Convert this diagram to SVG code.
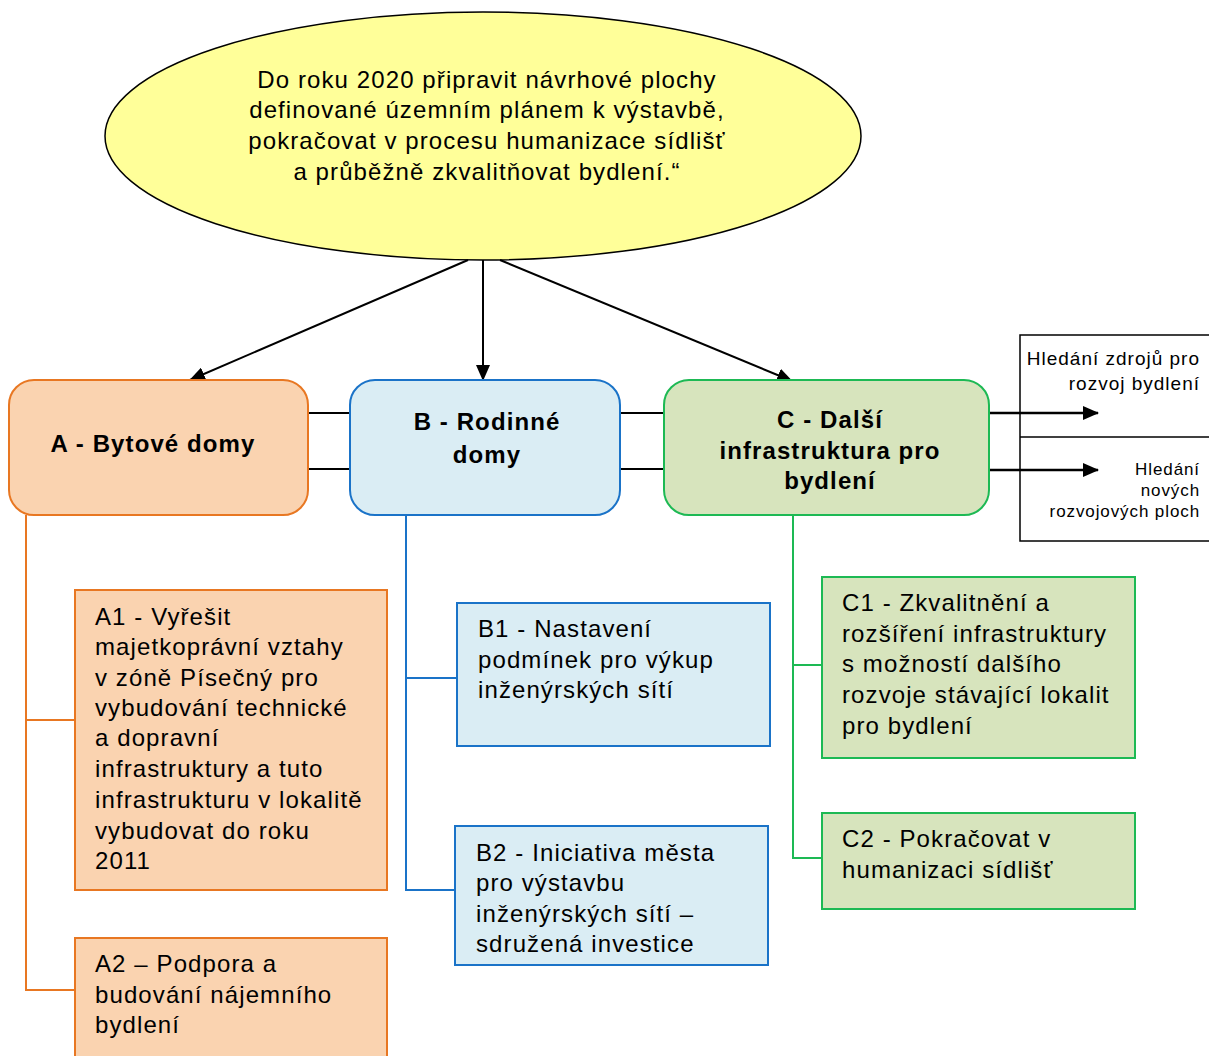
<svg xmlns="http://www.w3.org/2000/svg" width="1209" height="1056" viewBox="0 0 1209 1056">
<style>
text{font-family:"Liberation Sans",Arial,sans-serif;fill:#000}
.t{font-size:24px;letter-spacing:1.1px}
.h{font-size:24px;font-weight:bold;letter-spacing:1.1px;text-anchor:middle}
.e{font-size:24px;letter-spacing:1.1px;text-anchor:middle}
.s1{font-size:19px;letter-spacing:1px;text-anchor:end}
.s2{font-size:17px;letter-spacing:0.9px;text-anchor:end}
.a{fill:#FAD3B0;stroke:#E87722;stroke-width:2}
.b{fill:#DAEDF4;stroke:#1A73C8;stroke-width:2}
.c{fill:#D7E4BD;stroke:#1DB954;stroke-width:2}
.k{stroke:#000;stroke-width:2;fill:none}
.k3{stroke:#000;stroke-width:2.5;fill:none}
.la{stroke:#E87722;stroke-width:2;fill:none}
.lb{stroke:#1A73C8;stroke-width:2;fill:none}
.lc{stroke:#1DB954;stroke-width:2;fill:none}
</style>
<defs>
<marker id="ar" viewBox="0 0 16 14" refX="15" refY="7" markerWidth="16" markerHeight="14" markerUnits="userSpaceOnUse" orient="auto">
<path d="M0,0 L16,7 L0,14 Z" fill="#000"/>
</marker>
</defs>
<g id="goal">
<ellipse cx="483" cy="136" rx="378" ry="124" fill="#FFFF99" stroke="#000" stroke-width="1.5"/>
<text class="e" x="487" y="88">Do roku 2020 připravit návrhové plochy</text>
<text class="e" x="487" y="118">definované územním plánem k výstavbě,</text>
<text class="e" x="487" y="149">pokračovat v procesu humanizace sídlišť</text>
<text class="e" x="487" y="180">a průběžně zkvalitňovat bydlení.“</text>
</g>
<g id="connectors">
<line class="k" x1="468" y1="260" x2="190" y2="380" marker-end="url(#ar)"/>
<line class="k" x1="483" y1="260" x2="483" y2="380" marker-end="url(#ar)"/>
<line class="k" x1="500" y1="260" x2="792" y2="381" marker-end="url(#ar)"/>
<line class="k" x1="308" y1="413" x2="350" y2="413"/>
<line class="k" x1="308" y1="469" x2="350" y2="469"/>
<line class="k" x1="620" y1="413" x2="664" y2="413"/>
<line class="k" x1="620" y1="469" x2="664" y2="469"/>
<line class="k3" x1="989" y1="413" x2="1098" y2="413" marker-end="url(#ar)"/>
<line class="k3" x1="989" y1="470" x2="1098" y2="470" marker-end="url(#ar)"/>
<polyline class="la" points="26,515 26,990 75,990"/>
<line class="la" x1="26" y1="720" x2="75" y2="720"/>
<polyline class="lb" points="406,515 406,890 455,890"/>
<line class="lb" x1="406" y1="678" x2="457" y2="678"/>
<polyline class="lc" points="793,515 793,858 822,858"/>
<line class="lc" x1="793" y1="665" x2="822" y2="665"/>
</g>
<g id="side">
<rect x="1020" y="335" width="195" height="206" fill="none" stroke="#000" stroke-width="1.5"/>
<line x1="1020" y1="437" x2="1209" y2="437" stroke="#000" stroke-width="1.5"/>
<text class="s1" x="1200" y="365">Hledání zdrojů pro</text>
<text class="s1" x="1200" y="390">rozvoj bydlení</text>
<text class="s2" x="1200" y="475">Hledání</text>
<text class="s2" x="1200" y="496">nových</text>
<text class="s2" x="1200" y="517">rozvojových ploch</text>
</g>
<g id="A">
<rect class="a" x="9" y="380" width="299" height="135" rx="25"/>
<text class="h" x="153" y="452">A - Bytové domy</text>
</g>
<g id="B">
<rect class="b" x="350" y="380" width="270" height="135" rx="25"/>
<text class="h" x="487" y="430">B - Rodinné</text>
<text class="h" x="487" y="463">domy</text>
</g>
<g id="C">
<rect class="c" x="664" y="380" width="325" height="135" rx="25"/>
<text class="h" x="830" y="428">C - Další</text>
<text class="h" x="830" y="459">infrastruktura pro</text>
<text class="h" x="830" y="489">bydlení</text>
</g>
<g id="A1">
<rect class="a" x="75" y="590" width="312" height="300"/>
<text class="t" x="95" y="625">A1 - Vyřešit</text>
<text class="t" x="95" y="655">majetkoprávní vztahy</text>
<text class="t" x="95" y="686">v zóně Písečný pro</text>
<text class="t" x="95" y="716">vybudování technické</text>
<text class="t" x="95" y="746">a dopravní</text>
<text class="t" x="95" y="777">infrastruktury a tuto</text>
<text class="t" x="95" y="808">infrastrukturu v lokalitě</text>
<text class="t" x="95" y="839">vybudovat do roku</text>
<text class="t" x="95" y="869">2011</text>
</g>
<g id="A2">
<rect class="a" x="75" y="938" width="312" height="130"/>
<text class="t" x="95" y="972">A2 – Podpora a</text>
<text class="t" x="95" y="1003">budování nájemního</text>
<text class="t" x="95" y="1033">bydlení</text>
</g>
<g id="B1">
<rect class="b" x="457" y="603" width="313" height="143"/>
<text class="t" x="478" y="637">B1 - Nastavení</text>
<text class="t" x="478" y="668">podmínek pro výkup</text>
<text class="t" x="478" y="698">inženýrských sítí</text>
</g>
<g id="B2">
<rect class="b" x="455" y="826" width="313" height="139"/>
<text class="t" x="476" y="861">B2 - Iniciativa města</text>
<text class="t" x="476" y="891">pro výstavbu</text>
<text class="t" x="476" y="922">inženýrských sítí –</text>
<text class="t" x="476" y="952">sdružená investice</text>
</g>
<g id="C1">
<rect class="c" x="822" y="577" width="313" height="181"/>
<text class="t" x="842" y="611">C1 - Zkvalitnění a</text>
<text class="t" x="842" y="642">rozšíření infrastruktury</text>
<text class="t" x="842" y="672">s možností dalšího</text>
<text class="t" x="842" y="703">rozvoje stávající lokalit</text>
<text class="t" x="842" y="734">pro bydlení</text>
</g>
<g id="C2">
<rect class="c" x="822" y="813" width="313" height="96"/>
<text class="t" x="842" y="847">C2 - Pokračovat v</text>
<text class="t" x="842" y="878">humanizaci sídlišť</text>
</g>
</svg>
